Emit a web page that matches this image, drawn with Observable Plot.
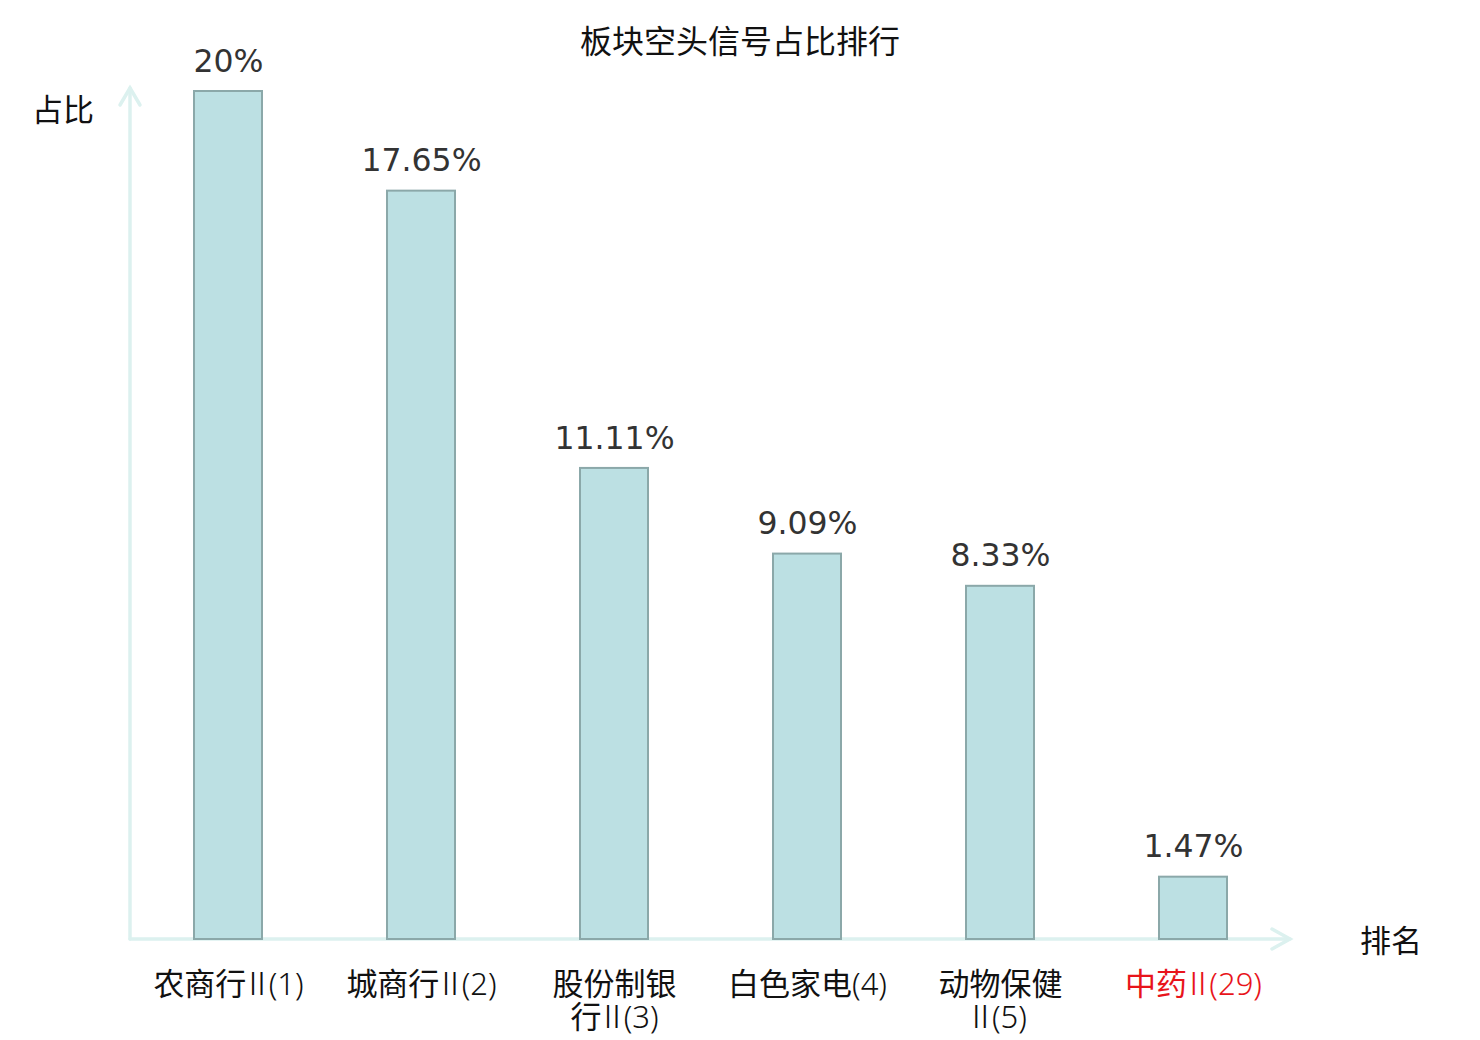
<!DOCTYPE html>
<html>
<head>
<meta charset="utf-8">
<script src="https://cdn.jsdelivr.net/npm/d3@7"></script>
<script src="https://cdn.jsdelivr.net/npm/@observablehq/plot@0.6"></script>
<style>
  html, body { margin: 0; padding: 0; background: #fff; }
</style>
</head>
<body>
<div id="chart"></div>
<script>
const categories = ["农商行Ⅱ(1)", "城商行Ⅱ(2)", "股份制银行Ⅱ(3)", "白色家电(4)", "动物保健Ⅱ(5)", "中药Ⅱ(29)"];
const tickLabels = ["农商行Ⅱ(1)", "城商行Ⅱ(2)", "股份制银\n行Ⅱ(3)", "白色家电(4)", "动物保健\nⅡ(5)", "中药Ⅱ(29)"];
const values = [20, 17.65, 11.11, 9.09, 8.33, 1.47];
const valueLabels = ["20%", "17.65%", "11.11%", "9.09%", "8.33%", "1.47%"];
const highlighted = [false, false, false, false, false, true];
const title = "板块空头信号占比排行";
const yLabel = "占比";
const xLabel = "排名";

const data = categories.map((c, i) => ({
  name: c, value: values[i], label: valueLabels[i], tick: tickLabels[i], hl: highlighted[i]
}));

const cjk = "'Noto Sans CJK SC', 'Noto Sans', sans-serif";
const latinLight = "'Noto Sans', 'Noto Sans CJK SC', sans-serif";
const axisColor = "#dcf1ef";

const chart = Plot.plot({
  width: 1480,
  height: 1040,
  marginLeft: 130,
  marginRight: 190,
  marginTop: 91,
  marginBottom: 101,
  style: { background: "#fff", overflow: "visible" },
  x: { domain: categories, paddingInner: 0.648, paddingOuter: 0.324, axis: null },
  y: { domain: [0, 20], axis: null },
  marks: [
    Plot.barY(data, { x: "name", y: "value", fill: "#bce0e3", stroke: "#8ba8a9", strokeWidth: 2 }),
    Plot.text(data, {
      x: "name", y: "value", text: "label", dy: -30,
      fontSize: 31.5, fill: "#333", fontFamily: "'DejaVu Sans', sans-serif"
    }),
    Plot.text(data, {
      x: "name", y: () => 0, text: "tick", dy: 33, lineAnchor: "top", lineHeight: 1.04,
      fontSize: 31, fontFamily: cjk, fill: d => d.hl ? "#e8141b" : "#111"
    })
  ]
});

const svg = d3.select(chart);

// render the non-CJK parts of the category labels in a light, narrow face
const textGroups = chart.querySelectorAll('g[aria-label="text"]');
const tickGroup = textGroups[textGroups.length - 1];
const NS = "http://www.w3.org/2000/svg";
function splitRuns(el) {
  const s = el.textContent;
  const runs = s.match(/[\u4e00-\u9fff]+|\u2161|[^\u4e00-\u9fff\u2161]+/g) || [];
  el.textContent = "";
  runs.forEach(r => {
    const t = document.createElementNS(NS, "tspan");
    t.textContent = r;
    if (r === "\u2161") {
      t.setAttribute("font-weight", "300");
      t.setAttribute("dx", "-0.15em");
      t.setAttribute("letter-spacing", "-0.13em");
    } else if (!/[\u4e00-\u9fff]/.test(r)) {
      t.setAttribute("font-family", latinLight);
      t.setAttribute("font-weight", "300");
    }
    el.appendChild(t);
  });
}
tickGroup.querySelectorAll("text").forEach(txt => {
  const lines = txt.querySelectorAll("tspan");
  if (lines.length) lines.forEach(splitRuns);
  else splitRuns(txt);
});

const xs = chart.scale("x");
const ys = chart.scale("y");
const x0 = xs.range[0];
const x1 = xs.range[1];
const y0 = ys.apply(0);
const yTop = ys.apply(20) - 3;

const g = svg.insert("g", ":first-child")
  .attr("fill", "none")
  .attr("stroke", axisColor)
  .attr("stroke-width", 3.5)
  .attr("stroke-linecap", "round");
// y axis line and arrow
g.append("path").attr("d", `M${x0},${y0}V${yTop}`);
g.append("path").attr("d", `M${x0 - 10},${yTop + 17}L${x0},${yTop}L${x0 + 10},${yTop + 17}`);
// x axis line and arrow
g.append("path").attr("d", `M${x0},${y0}H${x1}`);
g.append("path").attr("d", `M${x1 - 18},${y0 - 10}L${x1},${y0}L${x1 + -18},${y0 + 10}`);

// title and axis names
svg.append("text")
  .attr("x", 740).attr("y", 42).attr("dy", "0.35em")
  .attr("text-anchor", "middle")
  .attr("font-family", cjk).attr("font-size", 32).attr("fill", "#111")
  .text(title);
svg.append("text")
  .attr("x", x0 - 67).attr("y", yTop + 22).attr("dy", "0.35em")
  .attr("text-anchor", "middle")
  .attr("font-family", cjk).attr("font-size", 31).attr("fill", "#111")
  .text(yLabel);
svg.append("text")
  .attr("x", x1 + 101).attr("y", y0 + 2).attr("dy", "0.35em")
  .attr("text-anchor", "middle")
  .attr("font-family", cjk).attr("font-size", 31).attr("fill", "#111")
  .text(xLabel);

document.getElementById("chart").appendChild(chart);
</script>
</body>
</html>
